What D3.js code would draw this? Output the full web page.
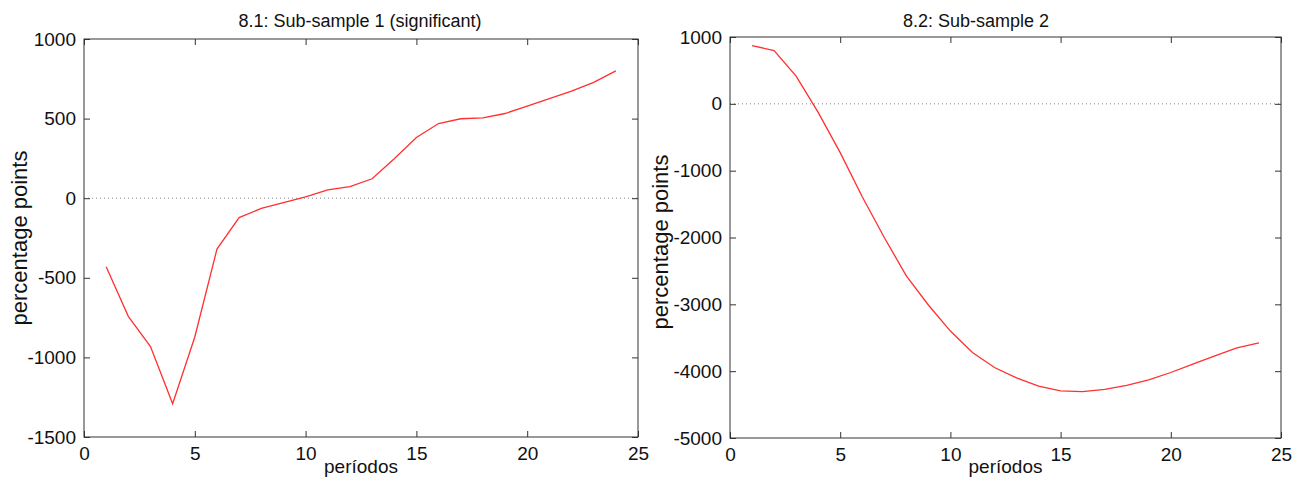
<!DOCTYPE html>
<html>
<head>
<meta charset="utf-8">
<script src="https://cdn.jsdelivr.net/npm/d3@7"></script>
<style>
  body { margin: 0; background: #fff; }
  svg text { font-family: "Liberation Sans", Arial, sans-serif; fill: #111; }
</style>
</head>
<body>
<script>
const periods = [1, 2, 3, 4, 5, 6, 7, 8, 9, 10, 11, 12, 13, 14, 15, 16, 17, 18, 19, 20, 21, 22, 23, 24];
const sub1 = [-430, -742, -932, -1291, -872, -320, -122, -64, -28, 8, 52, 73,
              122, 248, 381, 469, 499, 504, 532, 578, 626, 672, 728, 800];
const sub2 = [872, 797, 415, -128, -730, -1390, -2000, -2575, -3010, -3400, -3720, -3945,
              -4100, -4225, -4295, -4305, -4272, -4212, -4130, -4020, -3895, -3772, -3650, -3575];
const xTicks = [0, 5, 10, 15, 20, 25];
const yTicks1 = [-1500, -1000, -500, 0, 500, 1000];
const yTicks2 = [-5000, -4000, -3000, -2000, -1000, 0, 1000];

const svg = d3.select("body").append("svg")
    .attr("width", 1299)
    .attr("height", 479);

const plain = d => String(d);

function panel(p) {
  const x = d3.scaleLinear().domain([0, 25]).range([p.left, p.right]);
  const y = d3.scaleLinear().domain(p.yDomain).range([p.bottom, p.top]);
  const g = svg.append("g");

  // zero line
  g.append("line")
      .attr("x1", p.left).attr("x2", p.right)
      .attr("y1", y(0)).attr("y2", y(0))
      .attr("stroke", "#888").attr("stroke-width", 1)
      .attr("stroke-dasharray", "1,3");

  const styleAxis = sel => {
    sel.select(".domain").remove();
    sel.selectAll(".tick line").attr("stroke", "#333");
    sel.selectAll(".tick text").attr("font-size", 19).attr("fill", "#111")
        .attr("font-family", "Liberation Sans, Arial, sans-serif");
  };

  g.append("g").attr("transform", `translate(0,${p.bottom})`)
      .call(d3.axisBottom(x).tickValues(xTicks).tickSize(-6).tickPadding(10).tickFormat(plain))
      .call(styleAxis);
  g.append("g").attr("transform", `translate(0,${p.top})`)
      .call(d3.axisTop(x).tickValues(xTicks).tickSize(-6).tickFormat(""))
      .call(styleAxis);
  g.append("g").attr("transform", `translate(${p.left},0)`)
      .call(d3.axisLeft(y).tickValues(p.yTicks).tickSize(-6).tickPadding(8).tickFormat(plain))
      .call(styleAxis);
  g.append("g").attr("transform", `translate(${p.right},0)`)
      .call(d3.axisRight(y).tickValues(p.yTicks).tickSize(-6).tickFormat(""))
      .call(styleAxis);

  g.append("rect")
      .attr("x", p.left).attr("y", p.top)
      .attr("width", p.right - p.left).attr("height", p.bottom - p.top)
      .attr("fill", "none").attr("stroke", "#333").attr("stroke-width", 1);

  const line = d3.line().x((d, i) => x(periods[i])).y(d => y(d));
  g.append("path").datum(p.values)
      .attr("d", line)
      .attr("fill", "none")
      .attr("stroke", "#ff3030")
      .attr("stroke-width", 1.3);

  g.append("text")
      .attr("x", p.titleX).attr("y", 27)
      .attr("text-anchor", "middle").attr("font-size", 18)
      .text(p.title);
  g.append("text")
      .attr("x", (p.left + p.right) / 2).attr("y", 473)
      .attr("text-anchor", "middle").attr("font-size", 19)
      .text("períodos");
  g.append("text")
      .attr("transform", `translate(${p.yLabelX},${p.yLabelY}) rotate(-90)`)
      .attr("text-anchor", "middle").attr("font-size", 22)
      .text("percentage points");
}

panel({left: 84, right: 638, top: 39, bottom: 437, yDomain: [-1500, 1000], yTicks: yTicks1,
       values: sub1, title: "8.1: Sub-sample 1 (significant)", titleX: 360, yLabelX: 27, yLabelY: 238});
panel({left: 730, right: 1281, top: 37, bottom: 438, yDomain: [-5000, 1000], yTicks: yTicks2,
       values: sub2, title: "8.2: Sub-sample 2", titleX: 976, yLabelX: 668, yLabelY: 242});
</script>
</body>
</html>
